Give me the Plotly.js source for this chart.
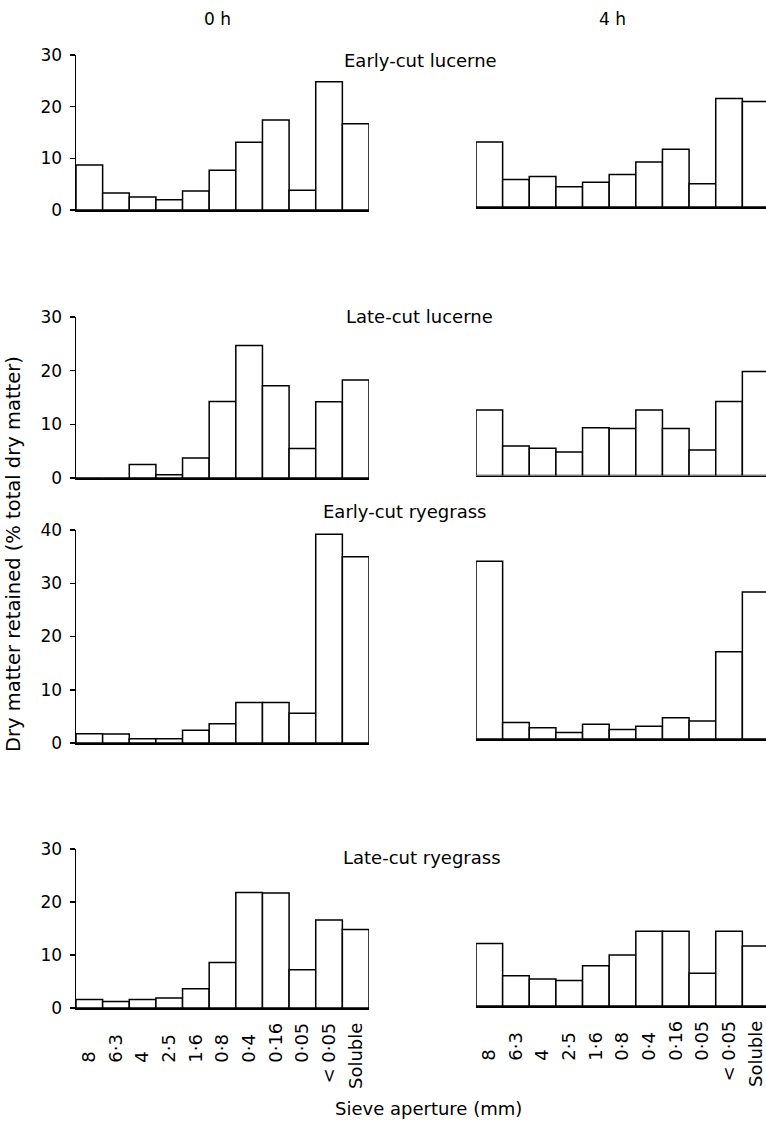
<!DOCTYPE html>
<html>
<head>
<meta charset="utf-8">
<script src="https://cdn.plot.ly/plotly-3.0.1.min.js"></script>
<style>
  html, body { margin: 0; padding: 0; background: #fff; }
  #chart { width: 766px; height: 1122px; }
</style>
</head>
<body>
<div id="chart"></div>
<script>
// ---------- data ----------
const sieveLabels = ['8', '6·3', '4', '2·5', '1·6', '0·8', '0·4', '0·16', '0·05', '< 0·05', 'Soluble'];
const timeLabels = ['0 h', '4 h'];
const forageNames = ['Early-cut lucerne', 'Late-cut lucerne', 'Early-cut ryegrass', 'Late-cut ryegrass'];

const earlyLucerne0h  = [8.7, 3.3, 2.5, 2.0, 3.7, 7.7, 13.1, 17.4, 3.8, 24.8, 16.7];
const earlyLucerne4h  = [12.6, 5.3, 5.9, 3.9, 4.8, 6.3, 8.7, 11.2, 4.5, 21.0, 20.4];
const lateLucerne0h   = [0, 0, 2.5, 0.6, 3.75, 14.25, 24.7, 17.2, 5.5, 14.2, 18.25];
const lateLucerne4h   = [12.2, 5.5, 5.1, 4.4, 8.9, 8.75, 12.2, 8.75, 4.75, 13.8, 19.4];
const earlyRyegrass0h = [1.75, 1.7, 0.8, 0.8, 2.4, 3.6, 7.6, 7.6, 5.6, 39.2, 35.0];
const earlyRyegrass4h = [33.4, 3.1, 2.1, 1.2, 2.75, 1.8, 2.4, 4.0, 3.4, 16.4, 27.6];
const lateRyegrass0h  = [1.6, 1.25, 1.6, 1.9, 3.65, 8.6, 21.8, 21.7, 7.2, 16.6, 14.8];
const lateRyegrass4h  = [11.8, 5.7, 5.1, 4.8, 7.6, 9.6, 14.1, 14.1, 6.2, 14.1, 11.3];

const yMax = [30, 30, 40, 30];
const yTitle = 'Dry matter retained (% total dry matter)';
const xTitle = 'Sieve aperture (mm)';

// ---------- layout geometry (pixels) ----------
const W = 766, H = 1122;
const FONT = 'DejaVu Sans, Verdana, sans-serif';
const panelSeries = [
  [earlyLucerne0h, earlyLucerne4h],
  [lateLucerne0h, lateLucerne4h],
  [earlyRyegrass0h, earlyRyegrass4h],
  [lateRyegrass0h, lateRyegrass4h]
];
// [baseline px, top px] for left and right columns
const panelY = [
  [[210, 55], [207, 52]],
  [[478, 317], [475.5, 314.5]],
  [[743, 530], [739, 526]],
  [[1008, 849], [1006, 847]]
];
const leftX = [76, 369];
const rightX0 = 476;
const barPx = (leftX[1] - leftX[0]) / sieveLabels.length;
const rightRangeEnd = -0.5 + (W - rightX0) / barPx;

const titlePos = [[420, 61], [419.5, 317], [404.5, 512], [422, 857]];

// pad short numeric labels so that they are bottom-aligned (as in the print)
function padLabel(s) {
  if (!/^[0-9·]+$/.test(s)) return s;
  let units = 0;
  for (const ch of s) units += (ch === '·') ? 1 : 2;
  return s + '\u00a0'.repeat(Math.max(0, 7 - units));
}
const tickText = sieveLabels.map(padLabel);

const traces = [];
const layout = {
  width: W, height: H,
  margin: {l: 0, r: 0, t: 0, b: 0, pad: 0},
  paper_bgcolor: '#fff', plot_bgcolor: '#fff',
  showlegend: false,
  bargap: 0,
  font: {family: FONT, size: 17, color: '#000'},
  annotations: []
};

for (let p = 0; p < 4; p++) {
  for (let s = 0; s < 2; s++) {
    const idx = p * 2 + s + 1;
    const xa = 'xaxis' + (idx === 1 ? '' : idx);
    const ya = 'yaxis' + (idx === 1 ? '' : idx);
    traces.push({
      type: 'bar',
      x: sieveLabels,
      y: panelSeries[p][s],
      xaxis: 'x' + (idx === 1 ? '' : idx),
      yaxis: 'y' + (idx === 1 ? '' : idx),
      marker: {color: '#fff', line: {color: '#000', width: 1.5}},
      hoverinfo: 'skip'
    });
    const [base, top] = panelY[p][s];
    const xDom = s === 0 ? [leftX[0] / W, leftX[1] / W] : [rightX0 / W, 1];
    const showX = (p === 3);
    layout[xa] = {
      domain: xDom,
      anchor: 'y' + (idx === 1 ? '' : idx),
      type: 'category',
      range: s === 0 ? [-0.5, sieveLabels.length - 0.5] : [-0.5, rightRangeEnd],
      showline: true, linecolor: '#000', linewidth: 1.5,
      showgrid: false, zeroline: false,
      ticks: '',
      showticklabels: showX,
      tickmode: 'array', tickvals: sieveLabels, ticktext: tickText,
      tickangle: -90,
      ticklabelstandoff: 6,
      tickfont: {family: FONT, size: 18, color: '#000'},
      fixedrange: true
    };
    layout[ya] = {
      domain: [1 - base / H, 1 - top / H],
      anchor: 'x' + (idx === 1 ? '' : idx),
      range: [0, yMax[p]],
      showgrid: false, zeroline: false,
      showline: s === 0, linecolor: '#000', linewidth: 1.5,
      ticks: s === 0 ? 'outside' : '',
      ticklen: 5, tickwidth: 1.5, tickcolor: '#000',
      tickmode: 'linear', tick0: 0, dtick: 10,
      showticklabels: s === 0,
      ticklabelstandoff: 4,
      tickfont: {family: FONT, size: 17, color: '#000'},
      fixedrange: true
    };
  }
  layout.annotations.push({
    text: forageNames[p], xref: 'paper', yref: 'paper',
    x: titlePos[p][0] / W, y: 1 - titlePos[p][1] / H,
    xanchor: 'center', yanchor: 'middle', showarrow: false,
    font: {family: FONT, size: 18, color: '#000'}
  });
}

// column headers
layout.annotations.push({
  text: timeLabels[0], xref: 'paper', yref: 'paper',
  x: 218 / W, y: 1 - 19 / H, xanchor: 'center', yanchor: 'middle', showarrow: false,
  font: {family: FONT, size: 17, color: '#000'}
});
layout.annotations.push({
  text: timeLabels[1], xref: 'paper', yref: 'paper',
  x: 612 / W, y: 1 - 19 / H, xanchor: 'center', yanchor: 'middle', showarrow: false,
  font: {family: FONT, size: 17, color: '#000'}
});
// axis titles
layout.annotations.push({
  text: yTitle, xref: 'paper', yref: 'paper',
  x: 13 / W, y: 1 - 554 / H, xanchor: 'center', yanchor: 'middle', textangle: -90,
  showarrow: false, font: {family: FONT, size: 19.5, color: '#000'}
});
layout.annotations.push({
  text: xTitle, xref: 'paper', yref: 'paper',
  x: 428 / W, y: 1 - 1108 / H, xanchor: 'center', yanchor: 'middle',
  showarrow: false, font: {family: FONT, size: 18, color: '#000'}
});

Plotly.newPlot('chart', traces, layout, {staticPlot: true, displayModeBar: false});
</script>
</body>
</html>
